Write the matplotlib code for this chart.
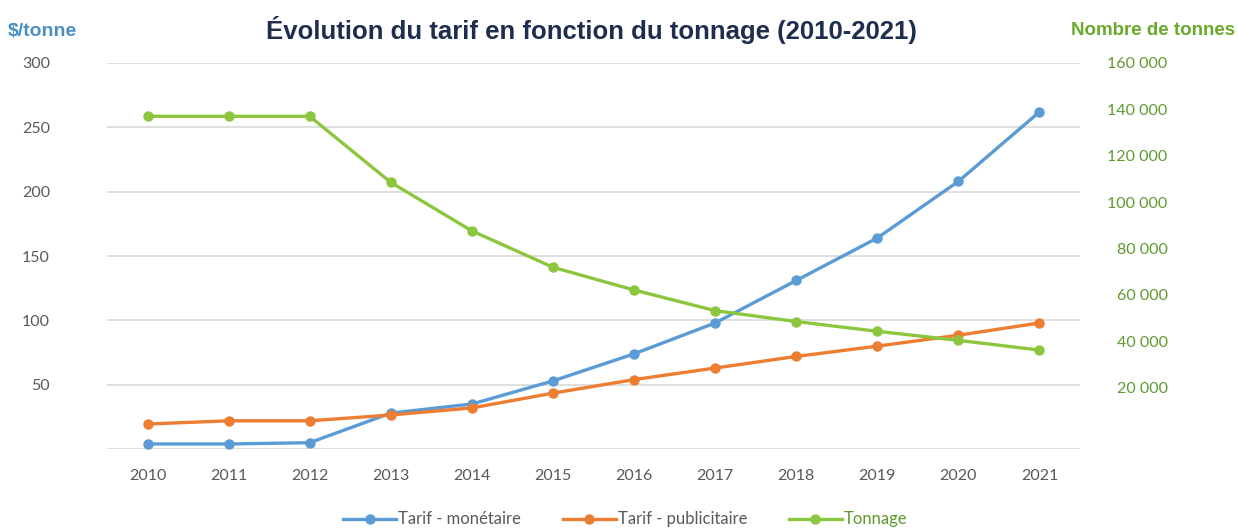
import matplotlib
matplotlib.use('Agg')
import matplotlib.pyplot as plt
from matplotlib.ticker import FuncFormatter

# Data
years = [2010, 2011, 2012, 2013, 2014, 2015, 2016, 2017, 2018, 2019, 2020, 2021]
tarif_monetaire = [4, 4, 5, 28, 35, 53, 74, 98, 131, 164, 208, 262]
tarif_publicitaire = [19.5, 22, 22, 26.5, 32, 43.5, 54, 63, 72, 80, 88.5, 98]
tonnage = [137000, 137000, 137000, 108500, 87600, 71900, 62100, 53200, 48500, 44300, 40400, 36200]

left_ticks = [50, 100, 150, 200, 250, 300]
right_ticks = [20000, 40000, 60000, 80000, 100000, 120000, 140000, 160000]

BLUE = '#5B9BD5'
ORANGE = '#ED7D31'
GREEN = '#8CC63F'
TICK_GRAY = '#595959'
GRID = '#D9D9D9'

plt.rcParams['font.family'] = ['Lato', 'DejaVu Sans']

fig = plt.figure(figsize=(12.38, 5.29), dpi=100)
ax = fig.add_axes([0.0864, 0.151, 0.786, 0.730])
ax2 = ax.twinx()

x = list(range(len(years)))

ax.plot(x, tarif_monetaire, color=BLUE, linewidth=2.4, marker='o', markersize=6.5,
        label='Tarif - monétaire')
ax.plot(x, tarif_publicitaire, color=ORANGE, linewidth=2.4, marker='o', markersize=6.5,
        label='Tarif - publicitaire')
ax2.plot(x, tonnage, color=GREEN, linewidth=2.4, marker='o', markersize=6.5,
         label='Tonnage')

ax.set_xlim(-0.5, len(years) - 0.5)
ax.set_ylim(0, 300)
ax2.set_ylim(-6500, 157500)

ax.set_xticks(x)
ax.set_xticklabels([str(y) for y in years])
ax.set_yticks([0] + left_ticks)
ax.set_yticklabels([''] + [str(v) for v in left_ticks])
ax.grid(True, axis='y', color=GRID, linewidth=1.2)
ax.set_axisbelow(True)
ax.tick_params(axis='y', length=0, pad=41, labelsize=11.5, labelcolor=TICK_GRAY)
ax.tick_params(axis='x', length=0, pad=14, labelsize=11.5, labelcolor=TICK_GRAY)

ax2.set_yticks(right_ticks)
ax2.yaxis.set_major_formatter(FuncFormatter(lambda v, p: f'{int(v):,}'.replace(',', ' ')))
ax2.tick_params(axis='y', length=0, pad=63, labelsize=11.5, labelcolor='#5E9A2E')
for lbl in ax2.get_yticklabels():
    lbl.set_horizontalalignment('right')

for a in (ax, ax2):
    for s in a.spines.values():
        s.set_visible(False)

fig.text(0.478, 0.943, 'Évolution du tarif en fonction du tonnage (2010-2021)',
         ha='center', va='center', fontsize=18.5, fontweight='bold', color='#1F2D4E',
         family=['Liberation Sans', 'DejaVu Sans'])
fig.text(0.006, 0.94, '$/tonne', ha='left', va='center', fontsize=14,
         fontweight='bold', color='#4A8FC4', family=['Liberation Sans', 'DejaVu Sans'])
fig.text(0.998, 0.943, 'Nombre de tonnes', ha='right', va='center', fontsize=13.5,
         fontweight='bold', color='#6AAA2A', family=['Liberation Sans', 'DejaVu Sans'])

h1, l1 = ax.get_legend_handles_labels()
h2, l2 = ax2.get_legend_handles_labels()
fig.legend(h1 + h2, l1 + l2, loc='center', bbox_to_anchor=(0.505, 0.018), ncol=3,
           frameon=False, fontsize=12, handlelength=3.2, columnspacing=2.5,
           handletextpad=0.1, labelcolor=[TICK_GRAY, TICK_GRAY, '#5E9A2E'])

fig.savefig('out.png', dpi=100)
